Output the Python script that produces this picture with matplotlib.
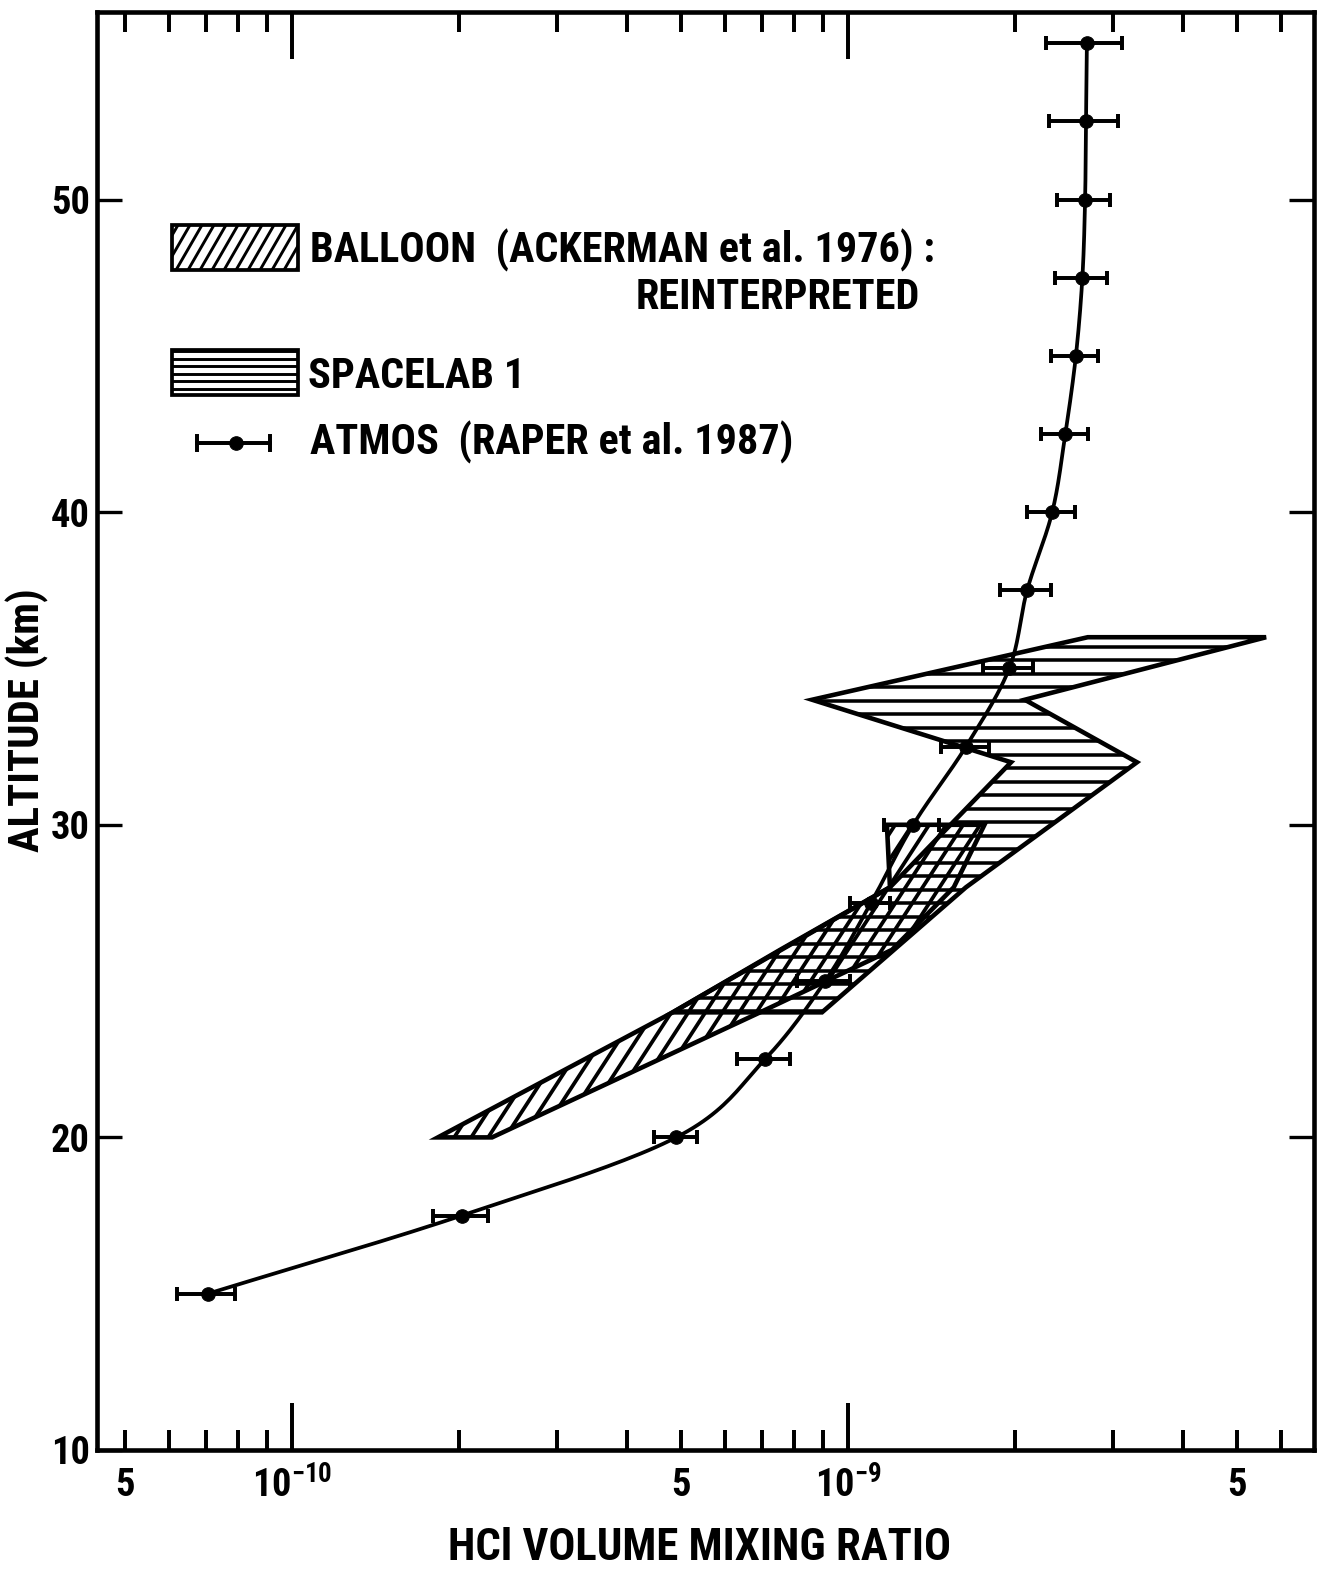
# HCl profile: balloon, Spacelab 1 and ATMOS
import numpy as np
import matplotlib
matplotlib.use('Agg')
import matplotlib.pyplot as plt
from matplotlib import font_manager
from matplotlib.patches import Polygon, Rectangle
from matplotlib.collections import LineCollection
from matplotlib.ticker import FixedLocator, FixedFormatter

# --- data (vmr in units of 1e-9) ---
atmos_alt = [15, 17.5, 20, 22.5, 25, 27.5, 30, 32.5, 35, 37.5, 40, 42.5, 45, 47.5, 50, 52.5, 55]
atmos_vmr = [0.0706, 0.202, 0.491, 0.709, 0.91, 1.10, 1.31, 1.63, 1.95, 2.10,
             2.33, 2.46, 2.57, 2.64, 2.67, 2.68, 2.69]
atmos_err = [0.0085, 0.023, 0.044, 0.078, 0.10, 0.09, 0.15, 0.16, 0.20, 0.22,
             0.23, 0.24, 0.25, 0.28, 0.29, 0.38, 0.42]

balloon_alt = [20, 24, 26, 28, 30]
balloon_min = [0.183, 0.484, 0.755, 1.19, 1.175]
balloon_max = [0.229, 0.695, 1.20, 1.55, 1.76]

spacelab_alt = [24, 28, 32, 34, 36]
spacelab_min = [0.484, 1.19, 1.965, 0.862, 2.70]
spacelab_max = [0.898, 1.63, 3.31, 2.08, 5.65]

scale = 1e-9

# --- fonts: prefer a narrow face, shrink sizes for wider ones ---
ttf = font_manager.fontManager.ttflist
names = {f.name for f in ttf}
stretch = 'normal'
if 'Roboto Condensed' in names:
    font, k = 'Roboto Condensed', 1.0
elif 'Liberation Sans Narrow' in names:
    font, k = 'Liberation Sans Narrow', 1.02
elif any(f.name == 'DejaVu Sans' and f.stretch in ('condensed', 'semi-condensed') for f in ttf):
    font, k, stretch = 'DejaVu Sans', 0.86, 'condensed'
elif 'Liberation Sans' in names:
    font, k = 'Liberation Sans', 0.86
else:
    font, k = 'DejaVu Sans', 0.76
plt.rcParams['font.family'] = [font, 'DejaVu Sans']
plt.rcParams['font.stretch'] = stretch
plt.rcParams['font.weight'] = 'bold'
plt.rcParams['mathtext.fontset'] = 'custom'
plt.rcParams['mathtext.rm'] = font + ':bold'
plt.rcParams['mathtext.it'] = font + ':bold'
plt.rcParams['mathtext.default'] = 'rm'

DPI = 75
FW, FH = 1342, 1585
fig = plt.figure(figsize=(FW / DPI, FH / DPI), dpi=DPI)
ax = fig.add_axes([97 / FW, 135 / FH, 1217 / FW, 1438 / FH])
AW, AH = 1217, 1438


def hatch(patch, angle, spacing, lw):
    # hatch lines in pixel space, clipped to the patch
    if angle == 0:
        ys = np.arange(spacing / 2, AH, spacing)
        segs = [[(0, y / AH), (1, y / AH)] for y in ys]
    else:
        t = 1 / np.tan(np.radians(angle))
        x0s = np.arange(-AH * t, AW, spacing)
        segs = [[(x0 / AW, 0), ((x0 + AH * t) / AW, 1)] for x0 in x0s]
    lc = LineCollection(segs, transform=ax.transAxes, colors='k', linewidths=lw, zorder=2)
    ax.add_collection(lc, autolim=False)
    lc.set_clip_path(patch)


def outline(xmin, xmax, alt):
    pts = [(v * scale, a) for v, a in zip(xmin, alt)]
    pts += [(v * scale, a) for v, a in zip(xmax[::-1], alt[::-1])]
    return Polygon(pts, closed=True, fill=False, edgecolor='k', lw=4.4, joinstyle='miter', zorder=3)


bal = outline(balloon_min, balloon_max, balloon_alt)
spl = outline(spacelab_min, spacelab_max, spacelab_alt)
ax.add_patch(bal)
ax.add_patch(spl)
hatch(bal, 57, 17, 3.6)
hatch(spl, 0, 13.5, 3.4)


# smooth ATMOS curve (Catmull-Rom in log space)
def smooth(xs, ys, n=25):
    p = np.column_stack([xs, ys])
    p = np.vstack([2 * p[0] - p[1], p, 2 * p[-1] - p[-2]])
    out = []
    t = np.linspace(0, 1, n)[:, None]
    for i in range(1, len(p) - 2):
        p0, p1, p2, p3 = p[i - 1], p[i], p[i + 1], p[i + 2]
        seg = 0.5 * ((2 * p1) + (-p0 + p2) * t + (2 * p0 - 5 * p1 + 4 * p2 - p3) * t ** 2
                     + (-p0 + 3 * p1 - 3 * p2 + p3) * t ** 3)
        out.append(seg)
    return np.vstack(out)


vmr = np.array(atmos_vmr) * scale
err = np.array(atmos_err) * scale
curve = smooth(np.log10(vmr), atmos_alt)
ax.plot(10 ** curve[:, 0], curve[:, 1], color='k', lw=3.6, zorder=4)
ax.errorbar(vmr, atmos_alt, xerr=err, fmt='none', ecolor='k', elinewidth=3.8,
            capsize=7, capthick=3.8, zorder=5)
ax.plot(vmr, atmos_alt, 'o', color='k', ms=13, zorder=6)

# axes
ax.set_xscale('log')
ax.set_xlim(4.46e-11, 6.89e-9)
ax.set_ylim(10, 56)
for s in ax.spines.values():
    s.set_linewidth(4.4)

ax.xaxis.set_major_locator(FixedLocator([1e-10, 1e-9]))
ax.xaxis.set_major_formatter(FixedFormatter([r'10$^{-10}$', r'10$^{-9}$']))
minors = [m * 10.0 ** d for d in (-11, -10, -9) for m in range(2, 10)]
minors = [v for v in minors if 4.46e-11 < v < 6.89e-9]
ax.xaxis.set_minor_locator(FixedLocator(minors))
ax.xaxis.set_minor_formatter(FixedFormatter(['5' if abs(v / 10 ** np.floor(np.log10(v) + 1e-9) - 5) < 1e-6 else ''
                                             for v in minors]))
ax.set_yticks([10, 20, 30, 40, 50])
ax.tick_params(which='both', direction='in', top=True, right=True, labelsize=37 * k)
ax.tick_params(axis='x', which='major', length=45, width=3.8, pad=16)
ax.tick_params(axis='x', which='minor', length=19, width=3.8, pad=16)
ax.tick_params(axis='y', which='major', length=24, width=3.2, pad=7)

fig.text(27 / FW, 1 - 720 / FH, 'ALTITUDE (km)', rotation=90, ha='center', va='center', fontsize=41 * k)
fig.text(700 / FW, 1 - 1548 / FH, 'HCl VOLUME MIXING RATIO', ha='center', va='center', fontsize=43 * k)


# legend
def axpt(px, py):
    return ((px - 97) / AW, (1450 - py) / AH)


for (y0, y1), ang, sp in (((225, 270), 60, 12), ((350, 395), 0, 7.5)):
    x0, yb = axpt(172, y1)
    x1, yt = axpt(298, y0)
    r = Rectangle((x0, yb), x1 - x0, yt - yb, transform=ax.transAxes, fill=False,
                  edgecolor='k', lw=3.6, zorder=3)
    ax.add_patch(r)
    hatch(r, ang, sp, 2.8)

lx0, ly = axpt(197, 443)
lx1, _ = axpt(270, 443)
lxm, _ = axpt(236, 443)
d = 7 / AH
ax.plot([lx0, lx1], [ly, ly], color='k', lw=3.8, transform=ax.transAxes)
for xx in (lx0, lx1):
    ax.plot([xx, xx], [ly - d, ly + d], color='k', lw=3.8, transform=ax.transAxes)
ax.plot([lxm], [ly], 'o', color='k', ms=13, transform=ax.transAxes)

fs = 40.5 * k
tx, ty = axpt(310, 263)
ax.text(tx, ty, 'BALLOON  (ACKERMAN et al. 1976) :', transform=ax.transAxes, fontsize=fs, va='baseline')
tx, ty = axpt(920, 309)
ax.text(tx, ty, 'REINTERPRETED', transform=ax.transAxes, fontsize=fs, va='baseline', ha='right')
tx, ty = axpt(308, 388)
ax.text(tx, ty, 'SPACELAB 1', transform=ax.transAxes, fontsize=fs, va='baseline')
tx, ty = axpt(310, 455)
ax.text(tx, ty, 'ATMOS  (RAPER et al. 1987)', transform=ax.transAxes, fontsize=fs, va='baseline')

fig.savefig('out.png', dpi=DPI)
